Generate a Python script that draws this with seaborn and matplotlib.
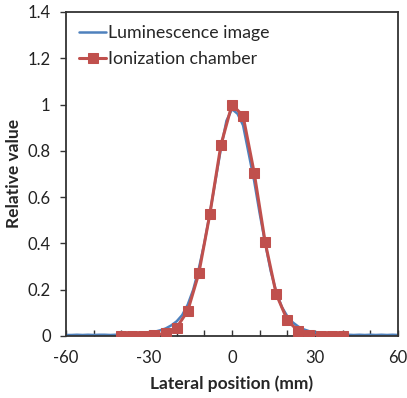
import matplotlib
matplotlib.use("Agg")
import matplotlib.pyplot as plt
import seaborn as sns
import pandas as pd

# Luminescence image profile (blue line), 2 mm sampling
lum_x = list(range(-60, 61, 2))
lum_y = [0.004, 0.004, 0.005, 0.004, 0.005, 0.004, 0.005, 0.005, 0.004, 0.005, 0.005,
         0.006, 0.007, 0.009, 0.011, 0.014, 0.018, 0.024, 0.032, 0.045, 0.063,
         0.090, 0.135, 0.200, 0.290, 0.400, 0.530, 0.670, 0.810, 0.930, 0.980,
         0.960, 0.910, 0.790, 0.670, 0.530, 0.400, 0.280, 0.190, 0.125, 0.085,
         0.058, 0.040, 0.028, 0.020, 0.015, 0.011, 0.009, 0.007, 0.006, 0.005,
         0.005, 0.004, 0.005, 0.004, 0.005, 0.004, 0.005, 0.004, 0.005, 0.004]

# Ionization chamber (red squares), 4 mm sampling
ion_x = list(range(-40, 41, 4))
ion_y = [0.0, 0.0, 0.0, 0.003, 0.012, 0.036, 0.108, 0.270, 0.526, 0.825, 1.0,
         0.951, 0.706, 0.404, 0.180, 0.068, 0.020, 0.005, 0.0, 0.0, 0.0]

x_ticks = list(range(-60, 61, 10))
x_labels = ["-60", "", "", "-30", "", "", "0", "", "", "30", "", "", "60"]
y_ticks = [0, 0.2, 0.4, 0.6, 0.8, 1.0, 1.2, 1.4]
y_labels = ["0", "0.2", "0.4", "0.6", "0.8", "1", "1.2", "1.4"]

sns.set_style("ticks")
plt.rcParams["font.family"] = ["Lato", "DejaVu Sans"]

fig = plt.figure(figsize=(4.07, 3.98), dpi=100)
ax = fig.add_axes([0.162, 0.156, 0.816, 0.814])

blue = "#4F81BD"
red = "#C0504D"

df_l = pd.DataFrame({"x": lum_x, "y": lum_y})
df_i = pd.DataFrame({"x": ion_x, "y": ion_y})

sns.lineplot(data=df_l, x="x", y="y", ax=ax, color=blue, lw=1.8,
             label="Luminescence image", zorder=2)
sns.lineplot(data=df_i, x="x", y="y", ax=ax, color=red, lw=2.2, marker="s",
             markersize=7, markeredgecolor=red, label="Ionization chamber", zorder=3)

ax.set_xlim(-60, 60)
ax.set_ylim(0, 1.4)
ax.set_xticks(x_ticks)
ax.set_xticklabels(x_labels)
ax.set_yticks(y_ticks)
ax.set_yticklabels(y_labels)
ax.tick_params(axis="x", direction="in", length=4, width=1, color="#333333",
               labelsize=12, labelcolor="#222222", pad=10)
ax.tick_params(axis="y", direction="out", length=4, width=1, color="#333333",
               labelsize=12, labelcolor="#222222", pad=7)
for s in ax.spines.values():
    s.set_visible(True)
    s.set_color("#333333")
    s.set_linewidth(1.3)

ax.set_xlabel("Lateral position (mm)", fontsize=12.5, fontweight="bold", labelpad=7)
ax.set_ylabel("Relative value", fontsize=12.5, fontweight="bold", labelpad=4)

leg = ax.legend(loc="upper left", frameon=False, fontsize=12.8, handlelength=1.5,
                handletextpad=0.1, borderaxespad=0.35, labelspacing=0.55)

fig.savefig("out.png", dpi=100)
